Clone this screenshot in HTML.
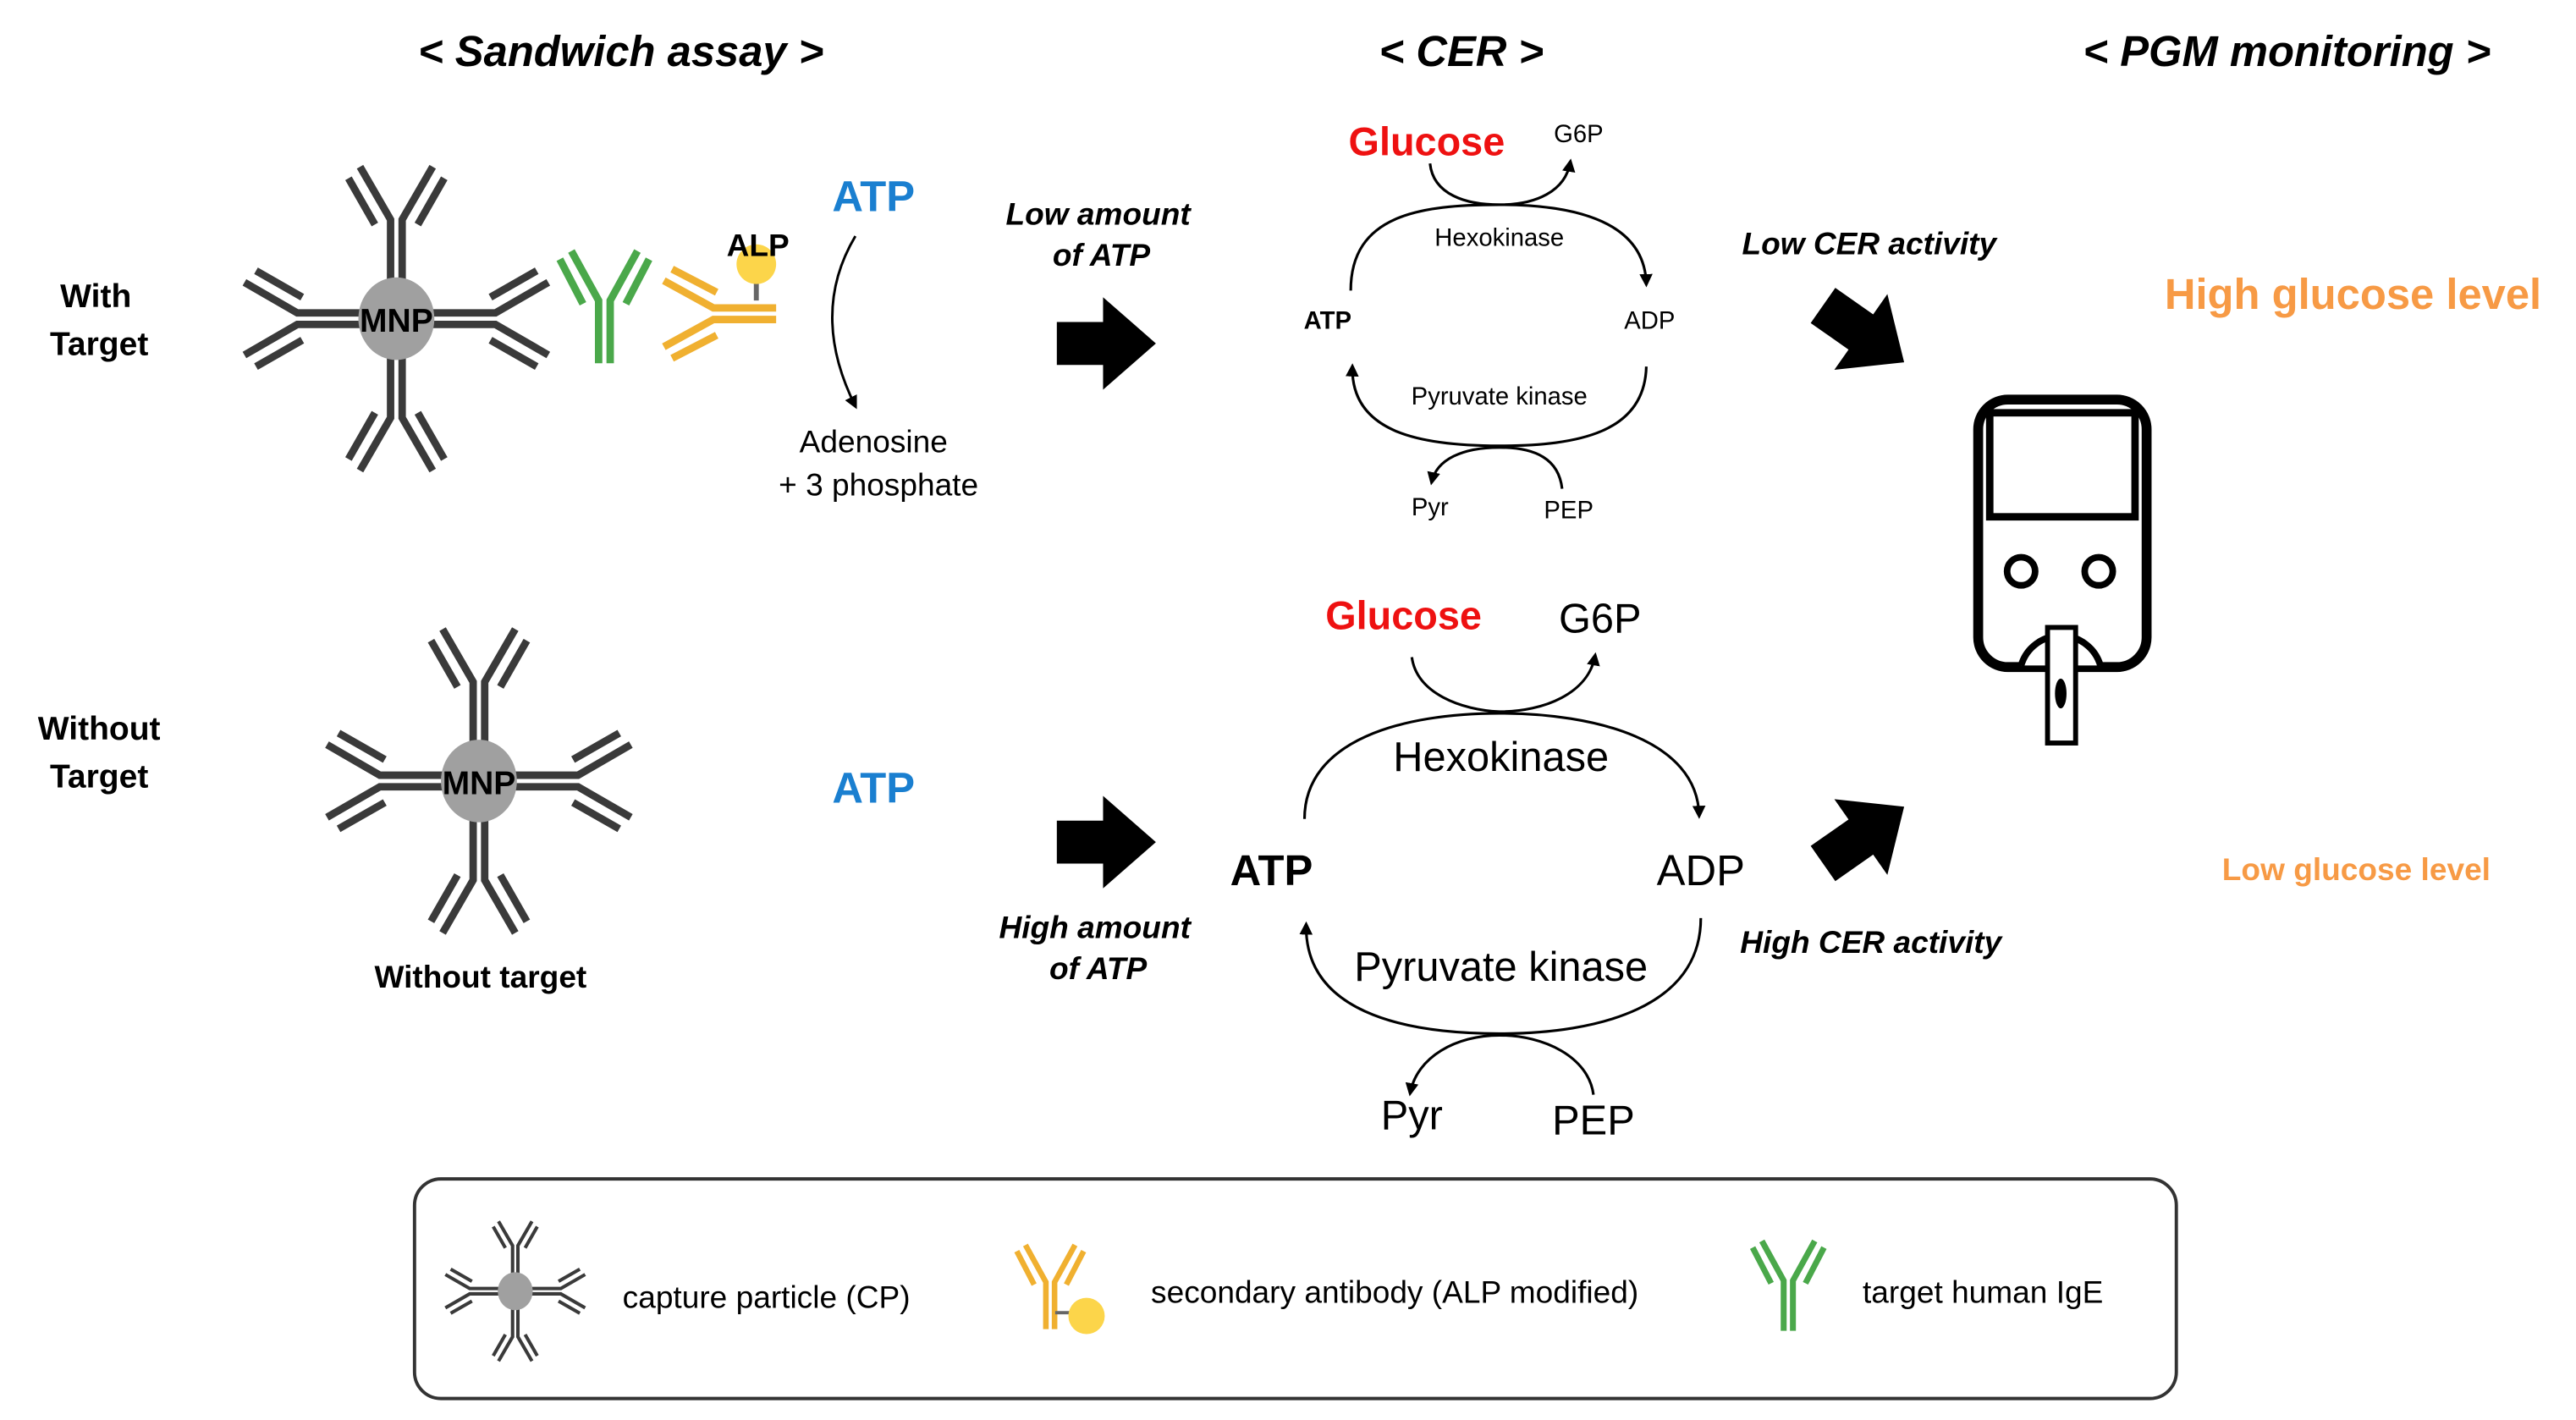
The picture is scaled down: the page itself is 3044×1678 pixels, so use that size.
<!DOCTYPE html>
<html><head><meta charset="utf-8"><style>
html,body{margin:0;padding:0;background:#fff;}
svg{display:block;}
text{font-family:"Liberation Sans",sans-serif;}
</style></head><body>
<svg width="3044" height="1678" viewBox="0 0 1560 860" xmlns="http://www.w3.org/2000/svg">
<defs>
<g id="ab" stroke="#3a3a3a" stroke-width="4.5" fill="none" stroke-linecap="butt">
  <path d="M-3.5,-20 V-60 L-22,-92 M3.5,-20 V-60 L22,-92"/>
  <path d="M-13,-57 L-29,-85 M13,-57 L29,-85"/>
</g>
<g id="cp">
  <use href="#ab"/>
  <use href="#ab" transform="rotate(90)"/>
  <use href="#ab" transform="rotate(180)"/>
  <use href="#ab" transform="rotate(270)"/>
  <ellipse cx="0" cy="0" rx="23" ry="25" fill="#a0a0a0"/>
</g>
<g id="gab" stroke="#4aa84a" stroke-width="4.5" fill="none">
  <path d="M-3.5,0 V-38 L-20,-68 M3.5,0 V-38 L20,-68"/>
  <path d="M-13,-36 L-27,-63 M13,-36 L27,-63"/>
</g>
<g id="yab" stroke="#f0b030" stroke-width="4.5" fill="none">
  <path d="M-3.5,0 V-38 L-20,-68 M3.5,0 V-38 L20,-68"/>
  <path d="M-13,-36 L-27,-63 M13,-36 L27,-63"/>
</g>
<marker id="ah" markerWidth="8" markerHeight="8" refX="6" refY="4" orient="auto" markerUnits="userSpaceOnUse">
  <path d="M0,0 L8,4 L0,8 z" fill="#000"/>
</marker>
</defs>

<!-- headers -->
<g font-size="26" font-weight="bold" font-style="italic" text-anchor="middle">
<text x="376" y="40">&lt; Sandwich assay &gt;</text>
<text x="885" y="40">&lt; CER &gt;</text>
<text x="1385" y="40">&lt; PGM monitoring &gt;</text>
</g>

<g font-size="20" font-weight="bold" text-anchor="middle">
<text x="58" y="186">With</text><text x="60" y="215">Target</text>
<text x="60" y="448">Without</text><text x="60" y="477">Target</text>
<text x="291" y="598" font-size="19">Without target</text>
</g>

<!-- with target -->
<use href="#cp" transform="translate(240,193)"/>
<text x="240" y="201" font-size="20" font-weight="bold" text-anchor="middle">MNP</text>
<use href="#gab" transform="translate(366,220)"/>
<use href="#yab" transform="translate(470,190) rotate(-90)"/>
<line x1="458" y1="170" x2="458" y2="182" stroke="#666" stroke-width="3"/>
<circle cx="458" cy="160" r="12" fill="#fcd54a"/>
<text x="459" y="155" font-size="19" font-weight="bold" text-anchor="middle">ALP</text>

<!-- without target -->
<use href="#cp" transform="translate(290,473)"/>
<text x="290" y="481" font-size="20" font-weight="bold" text-anchor="middle">MNP</text>

<!-- ATP hydrolysis -->
<text x="529" y="128" font-size="26" font-weight="bold" fill="#1a7fd0" text-anchor="middle">ATP</text>
<path d="M518,143 Q490,190 518,246" stroke="#000" stroke-width="1.5" fill="none" marker-end="url(#ah)"/>
<text x="529" y="274" font-size="19" text-anchor="middle">Adenosine</text>
<text x="532" y="300" font-size="19" text-anchor="middle">+ 3 phosphate</text>
<text x="529" y="486" font-size="26" font-weight="bold" fill="#1a7fd0" text-anchor="middle">ATP</text>

<g font-size="19" font-weight="bold" font-style="italic" text-anchor="middle">
<text x="665" y="136">Low amount</text><text x="667" y="161">of ATP</text>
<text x="663" y="568">High amount</text><text x="665" y="593">of ATP</text>
<text x="1132" y="154">Low CER activity</text>
<text x="1133" y="577">High CER activity</text>
</g>

<!-- big arrows -->
<path d="M640,195 H668 V180 L700,208 L668,236 V221 H640 Z" fill="#000"/>
<path d="M640,497 H668 V482 L700,510 L668,538 V523 H640 Z" fill="#000"/>
<path d="M0,-13 H28 V-28 L60,0 L28,28 V13 H0 Z" fill="#000" transform="translate(1104,185) rotate(35)"/>
<path d="M0,-13 H28 V-28 L60,0 L28,28 V13 H0 Z" fill="#000" transform="translate(1104,523) rotate(-35)"/>

<!-- top CER -->
<g stroke="#000" stroke-width="1.6" fill="none">
<path d="M818,176 C818,130 860,124 908,124 C956,124 996,135 997,172" marker-end="url(#ah)"/>
<path d="M997,222 C996,262 956,270 908,270 C860,270 818,262 819,222" marker-end="url(#ah)"/>
<path d="M866,99 C868,118 888,124 908,124 C930,124 948,116 951,98" marker-end="url(#ah)"/>
<path d="M946,296 C944,278 930,271 908,271 C886,271 870,278 867,292" marker-end="url(#ah)"/>
</g>
<text x="864" y="94" font-size="24" font-weight="bold" fill="#ee1111" text-anchor="middle">Glucose</text>
<text x="956" y="86" font-size="15" text-anchor="middle">G6P</text>
<text x="908" y="149" font-size="15" text-anchor="middle">Hexokinase</text>
<text x="908" y="245" font-size="15" text-anchor="middle">Pyruvate kinase</text>
<text x="804" y="199" font-size="15" font-weight="bold" text-anchor="middle">ATP</text>
<text x="999" y="199" font-size="15" text-anchor="middle">ADP</text>
<text x="866" y="312" font-size="15" text-anchor="middle">Pyr</text>
<text x="950" y="314" font-size="15" text-anchor="middle">PEP</text>

<!-- bottom CER -->
<g stroke="#000" stroke-width="1.6" fill="none">
<path d="M790,496 C790,448 850,432 908,432 C966,432 1028,448 1029,494" marker-end="url(#ah)"/>
<path d="M1030,556 C1030,610 968,626 908,626 C848,626 790,612 791,560" marker-end="url(#ah)"/>
<path d="M855,398 C858,420 885,430 908,431 C935,431 962,420 966,397" marker-end="url(#ah)"/>
<path d="M965,663 C962,640 935,627 908,627 C882,627 858,640 854,662" marker-end="url(#ah)"/>
</g>
<text x="850" y="381" font-size="24" font-weight="bold" fill="#ee1111" text-anchor="middle">Glucose</text>
<text x="969" y="383" font-size="25" text-anchor="middle">G6P</text>
<text x="909" y="467" font-size="25" text-anchor="middle">Hexokinase</text>
<text x="909" y="594" font-size="25" text-anchor="middle">Pyruvate kinase</text>
<text x="770" y="536" font-size="26" font-weight="bold" text-anchor="middle">ATP</text>
<text x="1030" y="536" font-size="26" text-anchor="middle">ADP</text>
<text x="855" y="684" font-size="25" text-anchor="middle">Pyr</text>
<text x="965" y="687" font-size="25" text-anchor="middle">PEP</text>

<!-- glucometer -->
<g stroke="#000" fill="none">
<rect x="1198" y="242" width="102" height="162" rx="18" stroke-width="6"/>
<rect x="1205" y="250" width="88" height="63" stroke-width="4.5"/>
<circle cx="1224" cy="346" r="8.5" stroke-width="4"/>
<circle cx="1271" cy="346" r="8.5" stroke-width="4"/>
<path d="M1224,403 A25,25 0 0 1 1272,403" stroke-width="4" fill="#fff"/>
<rect x="1240" y="380" width="17" height="70" stroke-width="3" fill="#fff"/>
<ellipse cx="1248" cy="420" rx="3.5" ry="9" fill="#000" stroke="none"/>
</g>

<text x="1425" y="187" font-size="26" font-weight="bold" fill="#f79a45" text-anchor="middle">High glucose level</text>
<text x="1427" y="533" font-size="19" font-weight="bold" fill="#f79a45" text-anchor="middle">Low glucose level</text>

<!-- legend -->
<rect x="251" y="714" width="1067" height="133" rx="16" fill="none" stroke="#333" stroke-width="2"/>
<use href="#cp" transform="translate(312,782) scale(0.46)"/>
<text x="377" y="792" font-size="19">capture particle (CP)</text>
<use href="#yab" transform="translate(636,805) scale(0.75) rotate(0)"/>
<line x1="639" y1="795" x2="650" y2="795" stroke="#666" stroke-width="2"/>
<circle cx="658" cy="797" r="11" fill="#fcd54a"/>
<text x="697" y="789" font-size="19">secondary antibody (ALP modified)</text>
<use href="#gab" transform="translate(1083,806) scale(0.8)"/>
<text x="1128" y="789" font-size="19">target human IgE</text>
</svg>
</body></html>
